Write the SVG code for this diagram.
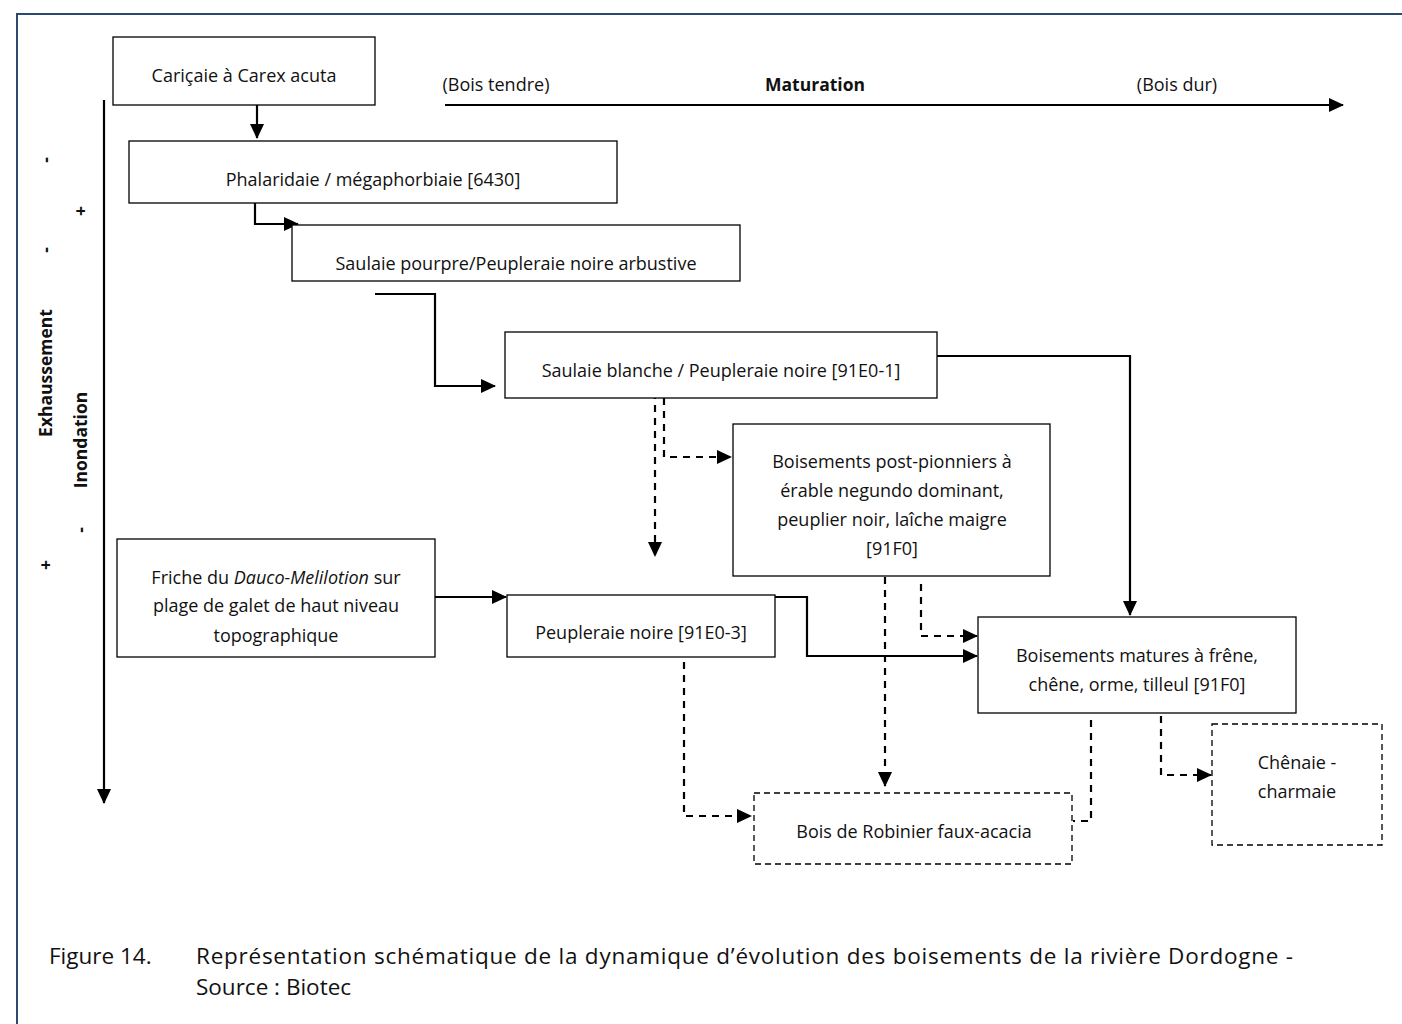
<svg xmlns="http://www.w3.org/2000/svg" width="1402" height="1024" viewBox="0 0 1402 1024">
<style>
.box{fill:#fff;stroke:#000;stroke-width:1.3}
.dbox{fill:#fff;stroke:#000;stroke-width:1.3;stroke-dasharray:6 4}
.t{font-family:"Open Sans","Liberation Sans",sans-serif;font-size:18px;fill:#111;text-anchor:middle}
.b{font-weight:bold;font-size:17.5px}
.c{fill:none;stroke:#000;stroke-width:2.2}
.d{fill:none;stroke:#000;stroke-width:2.2;stroke-dasharray:7 6}
.cap{font-family:"Open Sans","Liberation Sans",sans-serif;font-size:22.5px;fill:#111}
</style>
<defs>
<marker id="ar" markerUnits="userSpaceOnUse" markerWidth="16" markerHeight="16" viewBox="0 0 16 16" refX="14" refY="8" orient="auto">
<path d="M0,1 L15,8 L0,15 Z" fill="#000"/>
</marker>
</defs>
<rect width="1402" height="1024" fill="#fff"/>
<path d="M17,1024 V14 H1402" fill="none" stroke="#2b4a6f" stroke-width="2"/>

<g id="axes">
<path class="c" d="M445,105 H1343" marker-end="url(#ar)"/>
<path class="c" d="M104,100 V803" marker-end="url(#ar)"/>
<text class="t" x="496" y="91">(Bois tendre)</text>
<text class="t b" x="815" y="91">Maturation</text>
<text class="t" x="1177" y="91">(Bois dur)</text>
<text class="t b" transform="translate(52,373) rotate(-90)">Exhaussement</text>
<text class="t b" transform="translate(87,440) rotate(-90)">Inondation</text>
<text class="t b" transform="translate(52,160) rotate(-90)">-</text>
<text class="t b" transform="translate(52,250) rotate(-90)">-</text>
<text class="t b" transform="translate(52,565) rotate(-90)">+</text>
<text class="t b" transform="translate(87,211) rotate(-90)">+</text>
<text class="t b" transform="translate(87,530) rotate(-90)">-</text>
</g>

<g id="connectors">
<path class="c" d="M257,105 V138" marker-end="url(#ar)"/>
<path class="c" d="M255,203 V224 H298" marker-end="url(#ar)"/>
<path class="c" d="M375,294 H435 V386 H495" marker-end="url(#ar)"/>
<path class="c" d="M937,356 H1130 V615" marker-end="url(#ar)"/>
<path class="d" d="M598,397 H655 V556" marker-end="url(#ar)"/>
<path class="d" d="M664,398 V457 H731" marker-end="url(#ar)"/>
<path class="c" d="M435,597 H506" marker-end="url(#ar)"/>
<path class="c" d="M775,597 H807 V656 H977" marker-end="url(#ar)"/>
<path class="d" d="M885,577 V786" marker-end="url(#ar)"/>
<path class="d" d="M921,584 V636 H977" marker-end="url(#ar)"/>
<path class="d" d="M684,662 V816 H751" marker-end="url(#ar)"/>
<path class="d" d="M1091,720 V821 H1073"/>
<path class="d" d="M1161,716 V775 H1211" marker-end="url(#ar)"/>
</g>

<g id="n1"><rect class="box" x="113" y="37" width="262" height="68"/><text class="t" x="244" y="82">Cariçaie à Carex acuta</text></g>
<g id="n2"><rect class="box" x="129" y="141" width="488" height="62"/><text class="t" x="373" y="186">Phalaridaie / mégaphorbiaie [6430]</text></g>
<g id="n3"><rect class="box" x="292" y="225" width="448" height="56"/><text class="t" x="516" y="270">Saulaie pourpre/Peupleraie noire arbustive</text></g>
<g id="n4"><rect class="box" x="505" y="332" width="432" height="66"/><text class="t" x="721" y="377">Saulaie blanche / Peupleraie noire [91E0-1]</text></g>
<g id="n5"><rect class="box" x="733" y="424" width="317" height="152"/>
<text class="t" x="892" y="468">Boisements post-pionniers à</text>
<text class="t" x="892" y="497">érable negundo dominant,</text>
<text class="t" x="892" y="526">peuplier noir, laîche maigre</text>
<text class="t" x="892" y="555">[91F0]</text></g>
<g id="n6"><rect class="box" x="117" y="539" width="318" height="118"/>
<text class="t" x="276" y="584">Friche du <tspan font-style="italic">Dauco-Melilotion</tspan> sur</text>
<text class="t" x="276" y="612">plage de galet de haut niveau</text>
<text class="t" x="276" y="642">topographique</text></g>
<g id="n7"><rect class="box" x="507" y="595" width="268" height="62"/><text class="t" x="641" y="639">Peupleraie noire [91E0-3]</text></g>
<g id="n8"><rect class="box" x="978" y="617" width="318" height="96"/>
<text class="t" x="1137" y="662">Boisements matures à frêne,</text>
<text class="t" x="1137" y="691">chêne, orme, tilleul [91F0]</text></g>
<g id="n9"><rect class="dbox" x="754" y="793" width="318" height="71"/><text class="t" x="914" y="838">Bois de Robinier faux-acacia</text></g>
<g id="n10"><rect class="dbox" x="1212" y="724" width="170" height="121"/>
<text class="t" x="1297" y="769">Chênaie -</text>
<text class="t" x="1297" y="798">charmaie</text></g>

<g id="caption">
<text class="cap" x="49" y="964">Figure 14.</text>
<text class="cap" x="196" y="964" textLength="1097" lengthAdjust="spacing">Représentation schématique de la dynamique d’évolution des boisements de la rivière Dordogne -</text>
<text class="cap" x="196" y="995">Source : Biotec</text>
</g>
</svg>
